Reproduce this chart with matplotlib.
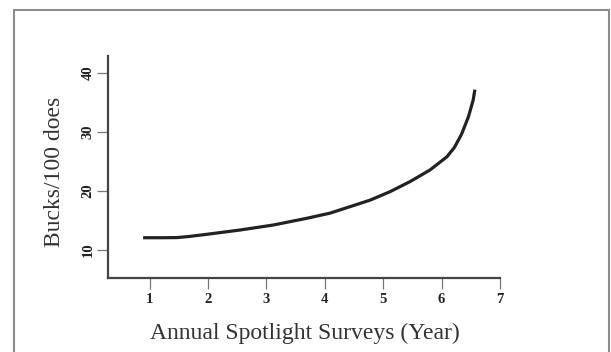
import matplotlib
matplotlib.use("Agg")
import matplotlib.pyplot as plt
from matplotlib.patches import Rectangle

# values
years = [0.89, 1.2, 1.47, 1.7, 1.98, 2.55, 3.12, 3.69, 4.09, 4.43, 4.78, 5.12, 5.46,
         5.80, 6.09, 6.22, 6.34, 6.46, 6.54, 6.57]
bucks = [12.08, 12.08, 12.1, 12.32, 12.66, 13.39, 14.24, 15.37, 16.25, 17.34, 18.47, 19.9, 21.6,
         23.56, 25.8, 27.4, 29.6, 32.6, 35.4, 37.2]
x_ticks = [1, 2, 3, 4, 5, 6, 7]
y_ticks = [10, 20, 30, 40]

plt.rcParams["font.family"] = ["Liberation Serif", "DejaVu Serif"]

fig = plt.figure(figsize=(6.11, 3.52), dpi=100)
ax = fig.add_axes([107.5 / 611, 74 / 352, 392.5 / 611, 222 / 352])

# grey frame round the whole figure
fig.patches.append(Rectangle((13.5 / 611, -0.1), (609 - 13.5) / 611, 1.1 - 9.5 / 352,
                             transform=fig.transFigure, fill=False,
                             edgecolor="#8c8c8c", linewidth=1.5))

ax.plot(years, bucks, color="#222222", linewidth=2.3, solid_capstyle="butt",
        solid_joinstyle="round")

ax.set_xlim(0.28, 7)
ax.set_ylim(5.25, 42.9)
ax.set_xticks(x_ticks)
ax.set_yticks(y_ticks)
ax.set_xticklabels([str(t) for t in x_ticks], fontsize=10.5, fontweight="bold", color="#222222")
ax.set_yticklabels([str(t) for t in y_ticks], fontsize=10.5, fontweight="bold", color="#222222",
                   rotation=90, va="center")

for side in ["top", "right"]:
    ax.spines[side].set_visible(False)
for side in ["left", "bottom"]:
    ax.spines[side].set_color("#444444")
    ax.spines[side].set_linewidth(1.6)
ax.tick_params(axis="x", direction="out", length=8, width=0.9, color="#777777", pad=2.5)
ax.tick_params(axis="y", direction="out", length=8, width=0.9, color="#777777", pad=1.5)

ax.set_xlabel("Annual Spotlight Surveys (Year)", fontsize=17, color="#333333")
ax.set_ylabel("Bucks/100 does", fontsize=17, color="#333333")
ax.xaxis.set_label_coords(0.503, -0.248)
ax.xaxis.label.set_va("center")
ax.yaxis.set_label_coords(-0.136, 0.477)
ax.yaxis.label.set_va("center")

fig.savefig("out.png", dpi=100)
